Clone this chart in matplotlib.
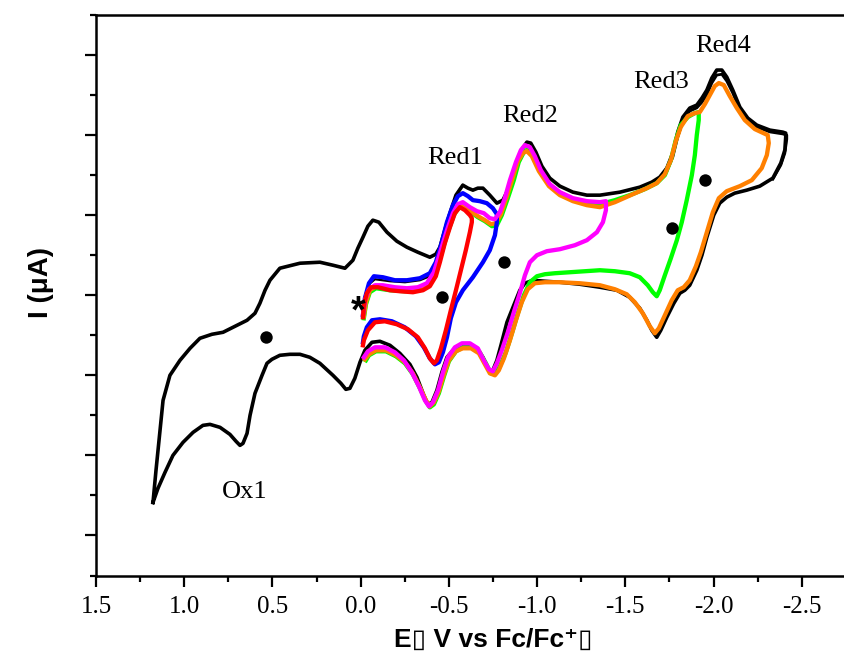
import matplotlib
matplotlib.use("Agg")
import matplotlib.pyplot as plt
from matplotlib.ticker import MultipleLocator, FixedLocator, NullFormatter

plt.rcParams['axes.unicode_minus'] = False

# ---------------- data (E in V vs Fc/Fc+, I in arbitrary units) ----------------
black_E = [1.177, 1.160, 1.137, 1.120, 1.081, 1.024, 0.967, 0.911, 0.843, 0.780, 0.712, 0.644,
           0.599, 0.571, 0.542, 0.514, 0.458, 0.344, 0.231, 0.157, 0.089, 0.044, 0.016, -0.013,
           -0.041, -0.069, -0.103, -0.149, -0.205, -0.262, -0.324, -0.392, -0.426, -0.449, -0.477,
           -0.506, -0.540, -0.579, -0.608, -0.636, -0.664, -0.693, -0.732, -0.772, -0.806, -0.834,
           -0.863, -0.891, -0.919, -0.942, -0.964, -0.993, -1.027, -1.072, -1.129, -1.203, -1.282,
           -1.356, -1.469, -1.582, -1.650, -1.695, -1.735, -1.769, -1.797, -1.826, -1.865, -1.905,
           -1.934, -1.962, -1.990, -2.018, -2.047, -2.075, -2.109, -2.149, -2.194, -2.245, -2.319,
           -2.392, -2.409,
           -2.409, -2.404, -2.381, -2.336, -2.262, -2.188, -2.120, -2.075, -2.035, -2.001, -1.962,
           -1.934, -1.905, -1.865, -1.837, -1.809, -1.775, -1.735, -1.701, -1.678, -1.650, -1.622,
           -1.582, -1.525, -1.452, -1.356, -1.242, -1.129, -1.044, -0.976, -0.931, -0.902, -0.868,
           -0.829, -0.795, -0.772, -0.749, -0.732, -0.710, -0.693, -0.664, -0.636, -0.591, -0.562,
           -0.523, -0.489, -0.460, -0.432, -0.404, -0.381, -0.358, -0.319, -0.279, -0.222, -0.166,
           -0.109, -0.064, -0.024, 0.004, 0.033, 0.061, 0.084, 0.112, 0.157, 0.231, 0.288, 0.344,
           0.401, 0.458, 0.503, 0.531, 0.559, 0.599, 0.627, 0.644, 0.667, 0.684, 0.706, 0.741,
           0.797, 0.854, 0.894, 0.950, 1.007, 1.064, 1.109, 1.149, 1.177]
black_I = [-5.175, -4.375, -3.375, -2.625, -2.0, -1.625, -1.325, -1.075, -0.975, -0.925, -0.775,
           -0.625, -0.45, -0.2, 0.125, 0.375, 0.675, 0.8, 0.825, 0.75, 0.675, 0.875, 1.175, 1.45,
           1.725, 1.875, 1.825, 1.575, 1.35, 1.2, 1.075, 0.95, 1.025, 1.2, 1.625, 2.05, 2.5, 2.75,
           2.675, 2.625, 2.675, 2.675, 2.5, 2.3, 2.375, 2.625, 2.925, 3.375, 3.675, 3.825, 3.8,
           3.575, 3.225, 2.925, 2.725, 2.575, 2.5, 2.5, 2.575, 2.7, 2.825, 2.95, 3.175, 3.55,
           4.075, 4.45, 4.675, 4.75, 4.925, 5.125, 5.425, 5.625, 5.625, 5.45, 5.125, 4.7, 4.425,
           4.25, 4.125, 4.075, 4.05,
           3.95, 3.625, 3.3, 2.925, 2.725, 2.625, 2.55, 2.45, 2.3, 2.0, 1.45, 1.0, 0.625, 0.25,
           0.125, 0.05, -0.2, -0.55, -0.875, -1.05, -0.875, -0.625, -0.325, -0.05, 0.125, 0.2,
           0.275, 0.325, 0.35, 0.375, 0.3, 0.125, -0.25, -0.675, -1.25, -1.625, -1.875, -1.9,
           -1.725, -1.55, -1.375, -1.275, -1.25, -1.275, -1.375, -1.55, -1.925, -2.375, -2.675,
           -2.725, -2.5, -2.05, -1.725, -1.45, -1.25, -1.15, -1.175, -1.375, -1.675, -2.075,
           -2.325, -2.35, -2.2, -2.0, -1.7, -1.55, -1.475, -1.475, -1.5, -1.6, -1.7, -2.0, -2.45,
           -3.0, -3.45, -3.7, -3.75, -3.65, -3.475, -3.3, -3.225, -3.25, -3.425, -3.675, -4.0,
           -4.425, -4.825, -5.175]

# second (repeat) scan of the black trace near Red3/Red4
black2_E = [-1.695, -1.735, -1.769, -1.797, -1.826, -1.865, -1.905, -1.934, -1.962, -1.990,
            -2.018, -2.047, -2.075, -2.109, -2.149, -2.194, -2.245, -2.319, -2.392, -2.415,
            -2.415, -2.404, -2.381, -2.336]
black2_I = [2.9, 3.1, 3.45, 3.95, 4.35, 4.6, 4.68, 4.82, 5.0, 5.3, 5.5, 5.52, 5.35, 5.05, 4.62,
            4.36, 4.2, 4.08, 4.03, 4.0,
            3.9, 3.55, 3.25, 2.9]

black_start_E = [-0.013, -0.024, -0.047, -0.081, -0.166, -0.251, -0.336, -0.392, -0.426, -0.460,
                 -0.494, -0.534, -0.562, -0.579]
black_start_I = [-0.425, -0.025, 0.275, 0.4, 0.35, 0.325, 0.375, 0.475, 0.725, 1.25, 1.825, 2.375,
                 2.65, 2.75]

red_E = [-0.013, -0.018, -0.035, -0.058, -0.098, -0.166, -0.222, -0.296, -0.353, -0.392, -0.426,
         -0.449, -0.477, -0.506, -0.534, -0.562, -0.591, -0.619, -0.630,
         -0.630, -0.619, -0.596, -0.568, -0.540, -0.511, -0.483, -0.455, -0.432, -0.415, -0.392,
         -0.364, -0.324, -0.268, -0.205, -0.137, -0.081, -0.041, -0.018, -0.013]
red_I = [-0.55, -0.25, 0.05, 0.2, 0.2, 0.125, 0.1, 0.075, 0.125, 0.225, 0.475, 0.825, 1.3, 1.7,
         2.05, 2.2, 2.125, 2.0, 1.925,
         1.825, 1.575, 1.125, 0.625, 0.125, -0.375, -0.875, -1.325, -1.625, -1.7, -1.575, -1.325,
         -1.05, -0.85, -0.725, -0.65, -0.675, -0.875, -1.125, -1.25]

blue_E = [-0.013, -0.024, -0.047, -0.075, -0.126, -0.194, -0.262, -0.336, -0.392, -0.426, -0.455,
          -0.489, -0.523, -0.551, -0.579, -0.608, -0.636, -0.675, -0.715, -0.749, -0.772,
          -0.772, -0.761, -0.732, -0.693, -0.636, -0.579, -0.540, -0.511, -0.489, -0.466, -0.443,
          -0.421, -0.392, -0.358, -0.313, -0.250, -0.177, -0.109, -0.064, -0.035, -0.018, -0.013]
blue_I = [-0.5, -0.075, 0.3, 0.475, 0.45, 0.375, 0.375, 0.425, 0.55, 0.825, 1.25, 1.825, 2.25,
          2.475, 2.55, 2.475, 2.375, 2.35, 2.3, 2.175, 2.025,
          1.825, 1.5, 1.125, 0.825, 0.45, 0.125, -0.175, -0.575, -1.05, -1.425, -1.675, -1.725,
          -1.575, -1.3, -1.025, -0.8, -0.65, -0.6, -0.625, -0.8, -1.025, -1.175]

magenta_E = [-0.013, -0.024, -0.047, -0.081, -0.126, -0.194, -0.262, -0.324, -0.375, -0.415,
             -0.449, -0.489, -0.523, -0.551, -0.579, -0.619, -0.659, -0.698, -0.732, -0.761,
             -0.789, -0.817, -0.846, -0.880, -0.908, -0.931, -0.959, -0.987, -1.021, -1.072,
             -1.129, -1.203, -1.282, -1.356, -1.390,
             -1.390, -1.373, -1.339, -1.282, -1.214, -1.129, -1.055, -0.999, -0.959, -0.931,
             -0.902, -0.868, -0.834, -0.800, -0.772, -0.749, -0.727, -0.698, -0.664, -0.619,
             -0.574, -0.534, -0.494, -0.466, -0.438, -0.409, -0.387, -0.364, -0.330, -0.290,
             -0.245, -0.194, -0.137, -0.081, -0.041, -0.018]
magenta_I = [-0.475, -0.125, 0.15, 0.25, 0.25, 0.2, 0.175, 0.2, 0.3, 0.575, 1.05, 1.625, 2.05,
             2.275, 2.325, 2.2, 2.1, 2.05, 1.925, 1.9, 2.075, 2.425, 2.875, 3.325, 3.625, 3.75,
             3.7, 3.475, 3.125, 2.775, 2.575, 2.425, 2.35, 2.325, 2.35,
             2.125, 1.825, 1.575, 1.375, 1.25, 1.15, 1.1, 1.0, 0.825, 0.5, 0.05, -0.425, -0.925,
             -1.375, -1.7, -1.9, -1.85, -1.625, -1.325, -1.2, -1.2, -1.3, -1.55, -1.925, -2.375,
             -2.675, -2.775, -2.625, -2.275, -1.925, -1.625, -1.425, -1.3, -1.3, -1.4, -1.55]

green_E = [-0.018, -0.030, -0.052, -0.087, -0.166, -0.251, -0.324, -0.381, -0.421, -0.455, -0.494,
           -0.528, -0.557, -0.585, -0.625, -0.664, -0.704, -0.744, -0.772, -0.800, -0.834, -0.868,
           -0.896, -0.925, -0.947, -0.976, -1.016, -1.072, -1.129, -1.203, -1.282, -1.356, -1.441,
           -1.525, -1.610, -1.678, -1.724, -1.758, -1.786, -1.814, -1.854, -1.894, -1.916,
           -1.916, -1.905, -1.894, -1.877, -1.848, -1.820, -1.792, -1.758, -1.724, -1.695, -1.678,
           -1.656, -1.627, -1.582, -1.525, -1.441, -1.356, -1.271, -1.186, -1.101, -1.044, -0.999,
           -0.959, -0.925, -0.891, -0.857, -0.823, -0.789, -0.761, -0.738, -0.710, -0.675, -0.630,
           -0.579, -0.540, -0.500, -0.472, -0.443, -0.415, -0.392, -0.370, -0.336, -0.296, -0.251,
           -0.200, -0.143, -0.087, -0.047, -0.030]
green_I = [-0.575, -0.225, 0.075, 0.175, 0.125, 0.1, 0.125, 0.225, 0.525, 1.0, 1.575, 2.0, 2.2,
           2.225, 2.075, 1.95, 1.85, 1.725, 1.75, 2.0, 2.425, 2.875, 3.325, 3.575, 3.65, 3.5,
           3.125, 2.75, 2.55, 2.4, 2.3, 2.275, 2.375, 2.5, 2.65, 2.8, 3.0, 3.375, 3.875, 4.25,
           4.45, 4.55, 4.575,
           4.375, 4.0, 3.5, 3.0, 2.375, 1.825, 1.375, 0.925, 0.5, 0.125, -0.025, 0.075, 0.25,
           0.45, 0.55, 0.6, 0.625, 0.6, 0.575, 0.55, 0.525, 0.475, 0.325, 0.0, -0.45, -0.95,
           -1.425, -1.775, -1.975, -1.95, -1.7, -1.425, -1.3, -1.3, -1.4, -1.65, -2.025, -2.45,
           -2.725, -2.8, -2.65, -2.325, -1.975, -1.7, -1.525, -1.4, -1.4, -1.5, -1.625]

orange_E = [-0.018, -0.030, -0.052, -0.087, -0.166, -0.251, -0.324, -0.381, -0.421, -0.455,
            -0.494, -0.528, -0.557, -0.585, -0.625, -0.664, -0.704, -0.738, -0.766, -0.795,
            -0.829, -0.863, -0.891, -0.919, -0.942, -0.970, -1.010, -1.067, -1.129, -1.203,
            -1.282, -1.356, -1.441, -1.543, -1.622, -1.678, -1.724, -1.758, -1.786, -1.814,
            -1.854, -1.894, -1.922, -1.951, -1.979, -2.007, -2.030, -2.058, -2.092, -2.132,
            -2.177, -2.234, -2.307,
            -2.313, -2.302, -2.273, -2.217, -2.149, -2.075, -2.030, -1.996, -1.962, -1.928,
            -1.900, -1.865, -1.831, -1.797, -1.763, -1.724, -1.690, -1.667, -1.639, -1.599,
            -1.554, -1.508, -1.441, -1.356, -1.242, -1.129, -1.044, -0.987, -0.947, -0.913,
            -0.880, -0.846, -0.812, -0.783, -0.761, -0.732, -0.704, -0.670, -0.625, -0.579,
            -0.540, -0.500, -0.472, -0.443, -0.415, -0.392, -0.370, -0.336, -0.296, -0.251,
            -0.200, -0.143, -0.087, -0.047, -0.024]
orange_I = [-0.525, -0.175, 0.125, 0.225, 0.175, 0.15, 0.15, 0.25, 0.55, 1.025, 1.6, 2.025, 2.225,
            2.25, 2.1, 1.975, 1.875, 1.775, 1.8, 2.025, 2.475, 2.95, 3.35, 3.55, 3.6, 3.475, 3.1,
            2.725, 2.5, 2.35, 2.25, 2.2, 2.325, 2.525, 2.675, 2.8, 3.025, 3.375, 3.85, 4.2,
            4.475, 4.55, 4.575, 4.775, 5.0, 5.225, 5.3, 5.25, 4.975, 4.675, 4.375, 4.15, 4.0,
            3.8, 3.5, 3.175, 2.875, 2.725, 2.6, 2.425, 2.075, 1.575, 1.075, 0.725, 0.375, 0.2,
            0.125, -0.125, -0.5, -0.825, -0.95, -0.775, -0.45, -0.175, 0.025, 0.15, 0.25, 0.3,
            0.325, 0.325, 0.3, 0.15, -0.175, -0.625, -1.125, -1.575, -1.875, -2.0, -1.95, -1.725,
            -1.45, -1.325, -1.325, -1.4, -1.625, -1.975, -2.4, -2.675, -2.775, -2.625, -2.3,
            -1.95, -1.675, -1.5, -1.375, -1.375, -1.475, -1.6]

dots_E = [0.537, -0.460, -0.812, -1.763, -1.951]
dots_I = [-1.05, -0.05, 0.825, 1.675, 2.875]

peak_labels = ["Ox1", "Red1", "Red2", "Red3", "Red4"]
peak_label_E = [0.656, -0.534, -0.959, -1.701, -2.052]
peak_label_I = [-4.925, 3.425, 4.475, 5.325, 6.225]

x_major = [1.5, 1.0, 0.5, 0.0, -0.5, -1.0, -1.5, -2.0, -2.5]
x_ticklabels = ["1.5", "1.0", "0.5", "0.0", "-0.5", "-1.0", "-1.5", "-2.0", "-2.5"]

# ---------------- figure ----------------
W, H = 844, 658
fig = plt.figure(figsize=(W / 100, H / 100), dpi=100)
left_px, right_px, top_px, bot_px = 96, 890, 15, 575.5
ax = fig.add_axes([left_px / W, (H - bot_px) / H, (right_px - left_px) / W, (bot_px - top_px) / H])

serif = ['Liberation Serif', 'DejaVu Serif']
sans = ['Liberation Sans', 'DejaVu Sans']

lw_k = 2.6
lw_c = 3.1
ax.plot(black_E, black_I, color='black', lw=lw_k, solid_joinstyle='round', zorder=2)
ax.plot(black2_E, black2_I, color='black', lw=2.0, solid_joinstyle='round', zorder=2)
ax.plot(black_start_E, black_start_I, color='black', lw=1.6, solid_joinstyle='round', zorder=2)
ax.plot(green_E, green_I, color='#00FF00', lw=lw_c, solid_joinstyle='round', zorder=3)
ax.plot(orange_E, orange_I, color='#FF8000', lw=lw_c, solid_joinstyle='round', zorder=4)
ax.plot(blue_E, blue_I, color='#0000FF', lw=lw_c, solid_joinstyle='round', zorder=5)
ax.plot(magenta_E, magenta_I, color='#FF00FF', lw=lw_c, solid_joinstyle='round', zorder=6)
ax.plot(red_E, red_I, color='#FF0000', lw=lw_c, solid_joinstyle='round', zorder=7)

ax.scatter(dots_E, dots_I, s=80, color='black', zorder=8, linewidths=0)

for lab, xe, yi in zip(peak_labels, peak_label_E, peak_label_I):
    ax.text(xe, yi, lab, family=serif, fontsize=19, ha='center', va='center', zorder=9)

ax.text(0.016, -0.42, "*", family=sans, fontsize=27, fontweight='bold', ha='center', va='center', zorder=9)

ax.set_xlim(1.5, -3.0)
ax.set_ylim(-7.0, 7.0)

ax.xaxis.set_major_locator(FixedLocator(x_major))
ax.xaxis.set_minor_locator(MultipleLocator(0.25))
ax.set_xticklabels(x_ticklabels, family=serif, fontsize=18)
ax.yaxis.set_major_locator(MultipleLocator(2))
ax.yaxis.set_minor_locator(MultipleLocator(1))
ax.yaxis.set_major_formatter(NullFormatter())

ax.tick_params(axis='both', which='both', direction='out', width=1.6, top=False, right=False)
ax.tick_params(axis='both', which='major', length=8)
ax.tick_params(axis='both', which='minor', length=4.3)
ax.tick_params(axis='x', which='major', pad=6.5)

for s in ['left', 'bottom', 'top', 'right']:
    ax.spines[s].set_linewidth(1.8)

ax.set_xlabel("E\u25af V vs Fc/Fc\u207a\u25af", family=sans, fontsize=19,
              fontweight='bold', labelpad=7)
ax.set_ylabel("I (\u03bcA)", family=sans, fontsize=20, fontweight='bold')
ax.yaxis.set_label_coords((54 - left_px) / (right_px - left_px), (bot_px - 283) / (bot_px - top_px))

fig.savefig("out.png", dpi=100)
